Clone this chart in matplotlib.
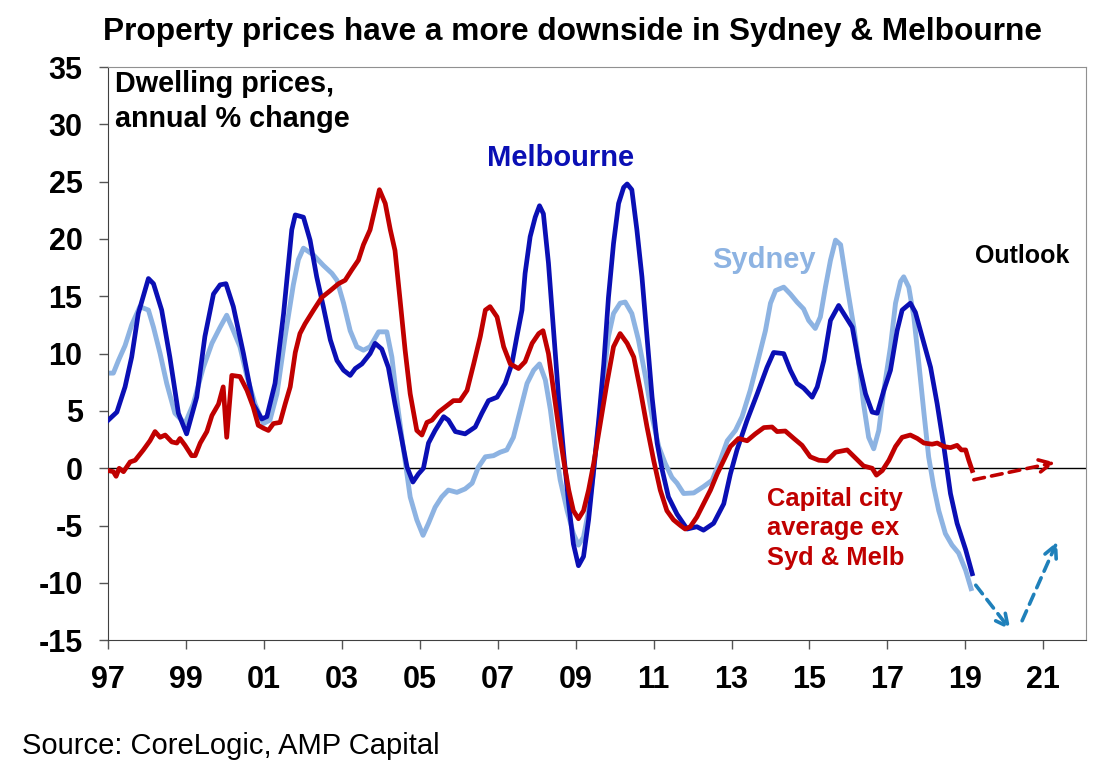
import numpy as np
import matplotlib
matplotlib.use("Agg")
import matplotlib.pyplot as plt

plt.rcParams['font.family'] = ['Liberation Sans', 'DejaVu Sans']
plt.rcParams['axes.unicode_minus'] = False

# Melbourne, annual % change (decimal year, value)
melb_t = [1997.00, 1997.22, 1997.43, 1997.60, 1997.77, 1998.03, 1998.16, 1998.37, 1998.58, 1998.80,
          1999.01, 1999.27, 1999.48, 1999.70, 1999.87, 2000.02, 2000.21, 2000.47, 2000.72, 2000.94,
          2001.07, 2001.28, 2001.50, 2001.71, 2001.80, 2002.01, 2002.18, 2002.35, 2002.52, 2002.70,
          2002.87, 2003.04, 2003.21, 2003.34, 2003.51, 2003.72, 2003.85, 2004.02, 2004.19, 2004.36,
          2004.54, 2004.67, 2004.82, 2004.96, 2005.09, 2005.22, 2005.39, 2005.61, 2005.73, 2005.91,
          2006.16, 2006.42, 2006.59, 2006.76, 2006.98, 2007.19, 2007.36, 2007.49, 2007.62, 2007.70,
          2007.83, 2007.96, 2008.07, 2008.17, 2008.30, 2008.43, 2008.56, 2008.69, 2008.82, 2008.94,
          2009.07, 2009.20, 2009.33, 2009.46, 2009.59, 2009.72, 2009.84, 2009.97, 2010.10, 2010.23,
          2010.32, 2010.44, 2010.57, 2010.70, 2010.83, 2010.96, 2011.09, 2011.22, 2011.38, 2011.60,
          2011.86, 2012.11, 2012.28, 2012.54, 2012.80, 2012.97, 2013.14, 2013.40, 2013.66, 2013.91,
          2014.08, 2014.34, 2014.51, 2014.68, 2014.85, 2015.07, 2015.20, 2015.37, 2015.54, 2015.75,
          2015.88, 2016.10, 2016.27, 2016.44, 2016.61, 2016.74, 2016.91, 2017.08, 2017.25, 2017.38,
          2017.59, 2017.72, 2017.89, 2018.11, 2018.28, 2018.45, 2018.62, 2018.79, 2019.01, 2019.18]
melb_v = [4.2, 4.9, 7.1, 9.7, 13.5, 16.55, 16.1, 13.8, 9.7, 4.8,
          3.0, 6.2, 11.5, 15.2, 16.0, 16.1, 14.1, 10.0, 5.6, 4.3,
          4.5, 7.4, 13.5, 20.8, 22.1, 21.9, 19.9, 16.7, 14.1, 11.2,
          9.4, 8.55, 8.1, 8.7, 9.1, 10.0, 10.9, 10.4, 8.8, 5.6,
          2.4, 0.1, -1.2, -0.5, 0.0, 2.2, 3.3, 4.5, 4.2, 3.2,
          3.0, 3.6, 4.8, 5.9, 6.2, 7.4, 9.1, 11.5, 13.8, 17.0,
          20.2, 21.9, 22.9, 22.2, 17.9, 12.0, 6.2, 1.3, -3.1, -6.6,
          -8.5, -7.7, -4.5, -0.2, 4.2, 9.1, 14.9, 19.6, 23.1, 24.5,
          24.8, 24.3, 20.8, 16.7, 11.5, 6.2, 2.2, -0.15, -2.5, -4.0,
          -5.3, -5.1, -5.4, -4.8, -3.1, -0.5, 1.6, 4.2, 6.5, 8.8,
          10.1, 10.0, 8.55, 7.4, 7.0, 6.2, 7.1, 9.4, 12.9, 14.2,
          13.5, 12.3, 9.1, 6.5, 4.9, 4.8, 6.8, 8.55, 12.0, 13.8,
          14.4, 13.6, 11.5, 8.8, 5.6, 1.9, -2.2, -4.8, -7.1, -9.2]

# Sydney
syd_t = [1997.00, 1997.13, 1997.26, 1997.43, 1997.60, 1997.81, 1998.03, 1998.16, 1998.33, 1998.50,
         1998.71, 1998.97, 1999.18, 1999.44, 1999.66, 1999.87, 2000.04, 2000.21, 2000.38, 2000.56,
         2000.77, 2000.98, 2001.15, 2001.33, 2001.54, 2001.75, 2001.88, 2002.01, 2002.27, 2002.52,
         2002.74, 2002.87, 2003.04, 2003.21, 2003.38, 2003.55, 2003.72, 2003.94, 2004.15, 2004.28,
         2004.41, 2004.58, 2004.75, 2004.92, 2005.08, 2005.22, 2005.39, 2005.56, 2005.73, 2005.95,
         2006.16, 2006.34, 2006.50, 2006.68, 2006.89, 2007.06, 2007.23, 2007.40, 2007.58, 2007.75,
         2007.92, 2008.07, 2008.22, 2008.35, 2008.47, 2008.60, 2008.78, 2008.94, 2009.07, 2009.20,
         2009.33, 2009.46, 2009.59, 2009.72, 2009.84, 2009.97, 2010.14, 2010.27, 2010.44, 2010.61,
         2010.79, 2010.96, 2011.13, 2011.30, 2011.47, 2011.60, 2011.77, 2012.03, 2012.28, 2012.50,
         2012.71, 2012.89, 2013.10, 2013.27, 2013.48, 2013.70, 2013.87, 2014.00, 2014.13, 2014.34,
         2014.51, 2014.68, 2014.85, 2014.98, 2015.15, 2015.28, 2015.41, 2015.54, 2015.67, 2015.80,
         2015.97, 2016.14, 2016.27, 2016.39, 2016.52, 2016.65, 2016.78, 2016.91, 2017.08, 2017.21,
         2017.34, 2017.42, 2017.55, 2017.68, 2017.81, 2017.94, 2018.06, 2018.19, 2018.32, 2018.49,
         2018.66, 2018.83, 2019.01, 2019.15]
syd_v = [8.3, 8.3, 9.4, 10.7, 12.5, 14.1, 13.8, 12.3, 10.0, 7.4,
         4.8, 3.9, 5.6, 8.8, 10.9, 12.3, 13.35, 12.0, 10.6, 8.0,
         5.6, 3.9, 4.2, 6.5, 11.5, 16.0, 18.2, 19.2, 18.6, 17.7,
         17.0, 16.4, 14.4, 12.0, 10.6, 10.3, 10.6, 11.9, 11.9, 9.7,
         5.9, 1.6, -2.5, -4.5, -5.85, -4.8, -3.4, -2.5, -1.9, -2.1,
         -1.8, -1.3, 0.1, 1.0, 1.1, 1.4, 1.6, 2.7, 5.1, 7.4,
         8.55, 9.1, 7.7, 5.1, 1.9, -1.0, -3.7, -5.7, -6.7, -6.0,
         -3.7, -0.2, 3.9, 8.0, 11.5, 13.5, 14.4, 14.5, 13.5, 11.2,
         8.0, 4.5, 1.9, 0.4, -0.8, -1.3, -2.2, -2.15, -1.6, -1.05,
         0.7, 2.4, 3.3, 4.5, 6.8, 9.7, 12.0, 14.4, 15.5, 15.8,
         15.2, 14.5, 13.9, 12.9, 12.2, 13.2, 15.8, 18.15, 19.9, 19.5,
         15.8, 12.3, 9.1, 5.6, 2.7, 1.7, 3.3, 6.8, 10.6, 14.4,
         16.3, 16.7, 15.8, 13.2, 9.1, 4.8, 1.0, -1.6, -3.7, -5.7,
         -6.7, -7.4, -8.9, -10.5]

# Capital city average ex Sydney & Melbourne
cap_t = [1997.00, 1997.13, 1997.20, 1997.28, 1997.39, 1997.56, 1997.69, 1997.90, 1998.07, 1998.20,
         1998.33, 1998.46, 1998.63, 1998.76, 1998.84, 1998.97, 1999.14, 1999.23, 1999.36, 1999.53,
         1999.66, 1999.83, 1999.95, 2000.04, 2000.17, 2000.38, 2000.56, 2000.72, 2000.85, 2000.98,
         2001.11, 2001.24, 2001.41, 2001.54, 2001.67, 2001.80, 2001.92, 2002.05, 2002.27, 2002.48,
         2002.70, 2002.91, 2003.08, 2003.25, 2003.42, 2003.55, 2003.72, 2003.85, 2003.96, 2004.11,
         2004.24, 2004.36, 2004.49, 2004.62, 2004.75, 2004.92, 2005.05, 2005.18, 2005.31, 2005.48,
         2005.65, 2005.86, 2006.03, 2006.21, 2006.38, 2006.55, 2006.68, 2006.80, 2006.98, 2007.15,
         2007.32, 2007.53, 2007.70, 2007.88, 2008.05, 2008.16, 2008.30, 2008.43, 2008.56, 2008.69,
         2008.82, 2008.94, 2009.07, 2009.20, 2009.33, 2009.46, 2009.63, 2009.80, 2009.97, 2010.14,
         2010.32, 2010.49, 2010.66, 2010.83, 2011.00, 2011.17, 2011.34, 2011.51, 2011.69, 2011.81,
         2011.94, 2012.11, 2012.28, 2012.46, 2012.63, 2012.80, 2012.97, 2013.18, 2013.40, 2013.61,
         2013.83, 2014.04, 2014.17, 2014.38, 2014.60, 2014.81, 2015.02, 2015.24, 2015.45, 2015.67,
         2015.97, 2016.18, 2016.39, 2016.61, 2016.72, 2016.87, 2017.04, 2017.21, 2017.38, 2017.59,
         2017.77, 2017.94, 2018.15, 2018.28, 2018.45, 2018.62, 2018.79, 2018.90, 2019.01, 2019.09,
         2019.18]
cap_v = [-0.2, -0.3, -0.7, 0.0, -0.3, 0.55, 0.7, 1.6, 2.4, 3.2,
         2.7, 2.9, 2.3, 2.2, 2.6, 2.0, 1.1, 1.1, 2.2, 3.2,
         4.6, 5.6, 7.1, 2.7, 8.1, 8.0, 6.8, 5.35, 3.75, 3.5,
         3.3, 3.9, 4.0, 5.6, 7.1, 10.1, 11.75, 12.6, 13.8, 14.9,
         15.5, 16.1, 16.4, 17.3, 18.15, 19.5, 20.8, 22.7, 24.3, 23.1,
         20.8, 19.0, 14.7, 10.3, 6.5, 3.3, 2.9, 4.0, 4.2, 4.9,
         5.35, 5.9, 5.9, 6.8, 9.1, 11.5, 13.8, 14.1, 13.2, 10.6,
         9.1, 8.7, 9.3, 10.9, 11.75, 12.0, 10.0, 6.8, 3.6, 0.7,
         -1.9, -3.7, -4.4, -3.7, -1.9, 0.4, 3.9, 7.4, 10.6, 11.75,
         10.9, 9.7, 6.8, 3.6, 0.7, -1.9, -3.7, -4.5, -5.0, -5.3,
         -5.1, -4.25, -3.1, -1.9, -0.5, 0.7, 1.9, 2.6, 2.4, 3.0,
         3.55, 3.6, 3.2, 3.25, 2.6, 2.0, 1.0, 0.7, 0.65, 1.4,
         1.6, 0.9, 0.2, 0.0, -0.6, -0.2, 0.7, 1.9, 2.7, 2.9,
         2.6, 2.2, 2.1, 2.2, 1.9, 1.8, 2.0, 1.6, 1.6, 0.7,
         -0.2]

# Outlook arrows (start year, start value, end year, end value)
cap_outlook = [(2019.22, -1.0, 2021.31, 0.5)]
syd_melb_outlook = [(2019.27, -10.2, 2020.16, -14.1), (2020.46, -13.3, 2021.36, -6.4)]

years = np.arange(1997, 2022, 2)
year_labels = ['97', '99', '01', '03', '05', '07', '09', '11', '13', '15', '17', '19', '21']

c_melb = '#0A0FB4'
c_syd = '#8DB3E2'
c_cap = '#C00000'
c_arrow = '#1F80BA'

fig = plt.figure(figsize=(11.04, 7.75), dpi=100)
ax = fig.add_axes([0.0981, 0.1739, 0.8856, 0.7396])

ax.axhline(0, color='black', lw=1, zorder=1)
ax.plot(syd_t, syd_v, color=c_syd, lw=3.5, zorder=2, solid_joinstyle='round')
ax.plot(melb_t, melb_v, color=c_melb, lw=3.4, zorder=3, solid_joinstyle='round')
ax.plot(cap_t, cap_v, color=c_cap, lw=3.4, zorder=4, solid_joinstyle='round')

for x0, y0, x1, y1 in cap_outlook:
    ax.annotate('', xy=(x1, y1), xytext=(x0, y0),
                arrowprops=dict(arrowstyle='->', color=c_cap, lw=2.6, linestyle=(0, (3, 2)),
                                mutation_scale=22, shrinkA=0, shrinkB=0))
for x0, y0, x1, y1 in syd_melb_outlook:
    ax.annotate('', xy=(x1, y1), xytext=(x0, y0),
                arrowprops=dict(arrowstyle='->', color=c_arrow, lw=2.6, linestyle=(0, (3, 2)),
                                mutation_scale=22, shrinkA=0, shrinkB=0))

ax.set_xlim(1997, 2022.1)
ax.set_ylim(-15, 35)
ax.set_xticks(years)
ax.set_xticklabels(year_labels)
ax.set_yticks(np.arange(-15, 36, 5))
ax.tick_params(axis='both', direction='out', length=6.5, width=1, color='#555555',
               labelsize=22)
ax.tick_params(axis='x', pad=11)
ax.tick_params(axis='y', pad=12)
for lab in ax.get_xticklabels() + ax.get_yticklabels():
    lab.set_fontweight('bold')
for side in ['left', 'bottom']:
    ax.spines[side].set_color('#404040')
for side in ['top', 'right']:
    ax.spines[side].set_color('#909090')

ax.text(0.007, 0.995, 'Dwelling prices,\nannual % change', transform=ax.transAxes,
        ha='left', va='top', fontsize=20.7, fontweight='bold', linespacing=1.3)
ax.text(2008.6, 27.1, 'Melbourne', color=c_melb, fontsize=21, fontweight='bold', ha='center', va='center')
ax.text(2013.84, 18.15, 'Sydney', color=c_syd, fontsize=21, fontweight='bold', ha='center', va='center')
ax.text(2020.45, 18.5, 'Outlook', color='black', fontsize=18, fontweight='bold', ha='center', va='center')
ax.text(2013.9, -1.6, 'Capital city\naverage ex\nSyd & Melb', color=c_cap, fontsize=18.4,
        fontweight='bold', ha='left', va='top', linespacing=1.3)

fig.text(0.519, 0.959, 'Property prices have a more downside in Sydney & Melbourne',
         ha='center', va='center', fontsize=22.8, fontweight='bold')
fig.text(0.02, 0.038, 'Source: CoreLogic, AMP Capital', ha='left', va='center', fontsize=21)

fig.savefig('out.png', dpi=100)
